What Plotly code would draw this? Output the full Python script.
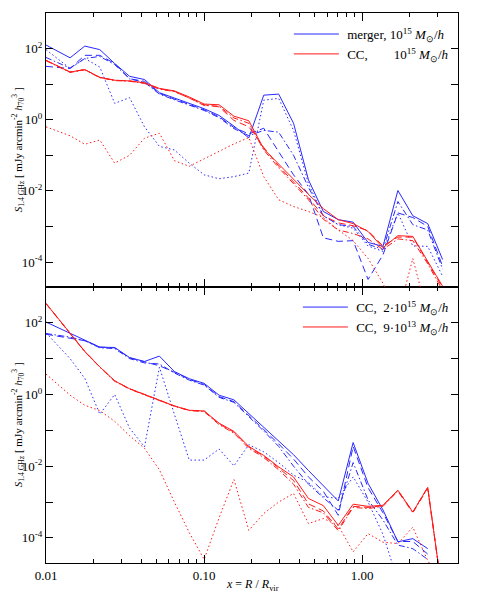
import plotly.graph_objects as go

# radial bins, x = R / R_vir
r_over_rvir = [0.0100, 0.0142, 0.0176, 0.0219, 0.0272, 0.0338, 0.0420, 0.0522, 0.0649,
               0.0806, 0.1002, 0.1245, 0.1546, 0.1921, 0.2387, 0.2966, 0.3685, 0.4578,
               0.5688, 0.7068, 0.878, 1.091, 1.356, 1.685, 2.094, 2.602, 3.232]

# ---- top panel: log10 S_1.4GHz ----
merger_solid = [2.10, 1.74, 2.07, 1.97, 1.58, 1.22, 1.13, 0.76, 0.61, 0.47, 0.31, 0.12, -0.18, -0.51,
                0.69, 0.72, -0.10, -1.69, -2.58, -2.81, -2.88, -3.45, -3.56, -1.99, -2.70, -2.92, -3.93]
merger_dash = [1.50, 1.44, 1.81, 1.81, 1.58, 1.15, 1.08, 0.74, 0.58, 0.44, 0.28, 0.08, -0.22, -0.40,
               -0.24, -0.90, -1.55, -2.10, -3.32, -3.42, -3.40, -4.49, -3.80, -2.62, -2.75, -3.00, -4.12]
merger_dashdot = [1.75, 1.45, 1.72, 1.78, 1.55, 1.15, 1.05, 0.72, 0.56, 0.42, 0.26, 0.06, -0.25, -0.45,
                  -0.30, -0.35, -1.00, -1.90, -2.70, -2.95, -3.00, -3.50, -3.65, -2.30, -2.95, -3.10, -4.20]
merger_dot = [1.97, 1.44, 1.72, 1.48, 0.46, 0.62, -0.20, -0.75, -0.85, -1.22, -1.55, -1.66, -1.60, -1.50,
              0.55, 0.60, -0.30, -1.80, -2.70, -2.95, -3.05, -3.55, -3.70, -2.62, -3.55, -3.56, -4.40]

cc_solid = [1.67, 1.34, 1.41, 1.19, 1.11, 1.09, 1.04, 0.88, 0.81, 0.64, 0.44, 0.42, 0.10, -0.03,
            -0.82, -1.25, -1.66, -2.10, -2.50, -2.81, -2.92, -3.14, -3.60, -3.26, -3.28, -3.98, -4.68]
cc_dash = [1.67, 1.34, 1.41, 1.19, 1.11, 1.09, 1.03, 0.87, 0.80, 0.62, 0.42, 0.36, -0.02, -0.20,
           -0.78, -1.30, -1.75, -2.20, -2.70, -2.90, -2.98, -3.12, -3.55, -3.30, -3.30, -4.00, -4.72]
cc_dashdot = [1.66, 1.33, 1.40, 1.18, 1.10, 1.08, 1.02, 0.86, 0.79, 0.61, 0.40, 0.38, 0.05, -0.10,
              -0.85, -1.35, -1.80, -2.25, -2.80, -3.10, -3.20, -3.35, -3.65, -3.35, -3.40, -4.05, -4.80]
cc_dot = [-0.20, -0.45, -0.69, -0.57, -1.22, -1.00, -0.52, -0.38, -1.15, -1.31, -1.10, -0.88, -0.68, -0.50,
          -1.60, -2.25, -2.44, -2.58, -2.75, -3.10, -3.40, -3.90, -4.60, -5.50, -3.90, -5.50, -6.00]

# ---- bottom panel: log10 S_1.4GHz ----
big_solid = [2.02, 1.70, 1.52, 1.32, 1.31, 1.03, 0.92, 1.07, 0.64, 0.44, 0.31, -0.02, -0.15, -0.53,
             -0.90, -1.28, -1.68, -2.12, -2.55, -2.97, -1.34, -2.48, -3.22, -4.11, -4.02, -4.30, None]
big_dash = [1.68, 1.58, 1.50, 1.32, 1.30, 1.02, 0.90, 0.80, 0.62, 0.42, 0.28, -0.06, -0.20, -0.58,
            -0.98, -1.38, -1.80, -2.30, -2.70, -3.37, -1.45, -2.60, -3.30, -4.10, -4.10, -4.45, None]
big_dashdot = [1.70, 1.60, 1.50, 1.30, 1.28, 1.00, 0.88, 0.85, 0.60, 0.40, 0.26, -0.08, -0.22, -0.62,
               -1.02, -1.45, -2.00, -2.50, -2.88, -3.23, -1.90, -2.94, -3.50, -4.20, -4.30, -4.60, None]
big_dot = [1.72, 1.00, 0.45, -0.55, 0.00, -0.94, -1.46, 0.76, -0.55, -1.83, -1.83, -1.52, -1.99, -1.40,
           -1.60, -1.90, -2.25, -2.45, -2.85, -2.90, -2.30, -3.00, -3.90, -5.20, -5.50, -5.80, None]

small_solid = [2.54, 1.70, 1.20, 0.77, 0.38, 0.16, 0.00, -0.17, -0.32, -0.44, -0.46, -0.80, -1.03, -1.45,
               -1.70, -2.02, -2.30, -2.90, -3.10, -3.65, -3.06, -3.12, -3.09, -2.67, -3.28, -2.59, -5.60]
small_dash = [2.54, 1.70, 1.20, 0.77, 0.38, 0.16, 0.00, -0.17, -0.32, -0.44, -0.46, -0.82, -1.05, -1.47,
              -1.72, -2.05, -2.40, -3.05, -3.25, -3.75, -3.12, -3.15, -3.10, -2.67, -3.28, -2.59, -5.60]
small_dashdot = [2.53, 1.69, 1.19, 0.76, 0.37, 0.15, -0.01, -0.18, -0.33, -0.45, -0.48, -0.84, -1.08, -1.50,
                 -1.76, -2.10, -2.50, -3.15, -3.30, -3.80, -3.15, -3.18, -3.12, -2.70, -3.30, -2.62, -5.60]
small_dot = [0.57, -0.02, -0.30, -0.45, -0.75, -1.15, -1.50, -2.10, -3.00, -3.85, -4.60, -3.44, -2.37, -3.79,
             -3.32, -3.00, -2.76, -3.60, -3.46, -3.65, -4.39, -3.88, -4.12, -4.16, -3.70, -4.63, -5.30]

y_tickvals = [1e-4, 1e-3, 1e-2, 1e-1, 1, 1e1, 1e2]
y_ticktext = ["10<sup>-4</sup>", "", "10<sup>-2</sup>", "", "10<sup>0</sup>", "", "10<sup>2</sup>"]
x_tickvals = [0.01, 0.1, 1.0]
x_ticktext = ["0.01", "0.10", "1.00"]
x_minor = [0.02, 0.03, 0.04, 0.05, 0.06, 0.07, 0.08, 0.09,
           0.2, 0.3, 0.4, 0.5, 0.6, 0.7, 0.8, 0.9, 2, 3, 4]


def to_lin(logs):
    return [None if v is None else 10.0 ** v for v in logs]


BLUE = "rgb(40,40,255)"
RED = "rgb(255,25,25)"
DASH = {"solid": "solid", "dash": "7px,4px", "dashdot": "6px,2.5px,1.5px,2.5px", "dot": "1.5px,2.5px"}
FONT = '"Liberation Serif", "Times New Roman", Times, serif'

fig = go.Figure()


def add(ys, color, style, xa, ya, name=None, legend=None):
    kw = dict(x=r_over_rvir, y=to_lin(ys), mode="lines",
              line=dict(color=color, width=1, dash=DASH[style]),
              xaxis=xa, yaxis=ya, hoverinfo="skip",
              showlegend=name is not None, name=name or "")
    if legend:
        kw["legend"] = legend
    fig.add_trace(go.Scatter(**kw))


msun = "<i>M</i><sub>\u2299</sub>/<i>h</i>"
# top panel
add(merger_dot, BLUE, "dot", "x2", "y2")
add(merger_dashdot, BLUE, "dashdot", "x2", "y2")
add(merger_dash, BLUE, "dash", "x2", "y2")
add(merger_solid, BLUE, "solid", "x2", "y2", "\u00a0merger, 10<sup>15</sup> " + msun, "legend")
add(cc_dot, RED, "dot", "x2", "y2")
add(cc_dashdot, RED, "dashdot", "x2", "y2")
add(cc_dash, RED, "dash", "x2", "y2")
add(cc_solid, RED, "solid", "x2", "y2", "\u00a0CC," + "\u00a0" * 8 + "10<sup>15</sup> " + msun, "legend")
# bottom panel
add(big_dot, BLUE, "dot", "x", "y")
add(big_dashdot, BLUE, "dashdot", "x", "y")
add(big_dash, BLUE, "dash", "x", "y")
add(big_solid, BLUE, "solid", "x", "y", "\u00a0CC,\u00a0 2\u00b710<sup>15</sup> " + msun, "legend2")
add(small_dot, RED, "dot", "x", "y")
add(small_dashdot, RED, "dashdot", "x", "y")
add(small_dash, RED, "dash", "x", "y")
add(small_solid, RED, "solid", "x", "y", "\u00a0CC,\u00a0 9\u00b710<sup>13</sup> " + msun, "legend2")

xbase = dict(type="log", range=[-2, 0.607], showline=True, linecolor="black", linewidth=1,
             mirror="ticks", ticks="inside", ticklen=8, tickcolor="black", automargin=False,
             tickvals=x_tickvals, ticktext=x_ticktext, showgrid=False, zeroline=False,
             minor=dict(ticks="inside", ticklen=4, tickcolor="black", tickvals=x_minor, showgrid=False))
ybase = dict(type="log", range=[-4.7, 3.0], showline=True, linecolor="black", linewidth=1,
             mirror="ticks", ticks="inside", ticklen=7, tickcolor="black", automargin=False,
             tickvals=y_tickvals, ticktext=y_ticktext, showgrid=False, zeroline=False)

y_title = "<i>S</i><sub>1.4 GHz</sub> [ mJy arcmin<sup>-2</sup> <i>h</i><sub>70</sub><sup>3</sup> ]"
x_title = "<i>x</i> = <i>R</i> / <i>R</i><sub>vir</sub>"

split = 0.502
# the page body adds an 8px offset, so the figure is drawn 8px smaller
fig.update_layout(
    width=469, height=592,
    margin=dict(l=38, r=19, t=5, b=37, autoexpand=False),
    paper_bgcolor="white", plot_bgcolor="white",
    font=dict(family=FONT, size=13, color="black"),
    xaxis=dict(xbase, anchor="y"),
    yaxis=dict(ybase, domain=[0, split], anchor="x"),
    xaxis2=dict(xbase, anchor="y2", showticklabels=False, matches="x"),
    yaxis2=dict(ybase, domain=[split, 1], anchor="x2"),
    legend=dict(x=0.99, xanchor="right", y=0.989, yanchor="top", bgcolor="rgba(0,0,0,0)",
                itemwidth=45, font=dict(size=13), tracegroupgap=0),
    legend2=dict(x=0.99, xanchor="right", y=0.4925, yanchor="top", bgcolor="rgba(0,0,0,0)",
                 itemwidth=45, font=dict(size=13), tracegroupgap=0),
    showlegend=True,
    annotations=[
        dict(text=x_title, xref="paper", yref="paper", x=0.5, y=-0.04,
             xanchor="center", yanchor="middle", showarrow=False, font=dict(size=12)),
        dict(text=y_title, xref="paper", yref="paper", x=-0.067, y=(split + 1) / 2, textangle=-90,
             xanchor="center", yanchor="middle", showarrow=False, font=dict(size=11)),
        dict(text=y_title, xref="paper", yref="paper", x=-0.067, y=split / 2, textangle=-90,
             xanchor="center", yanchor="middle", showarrow=False, font=dict(size=11)),
    ],
)

fig.write_html("out.html")
